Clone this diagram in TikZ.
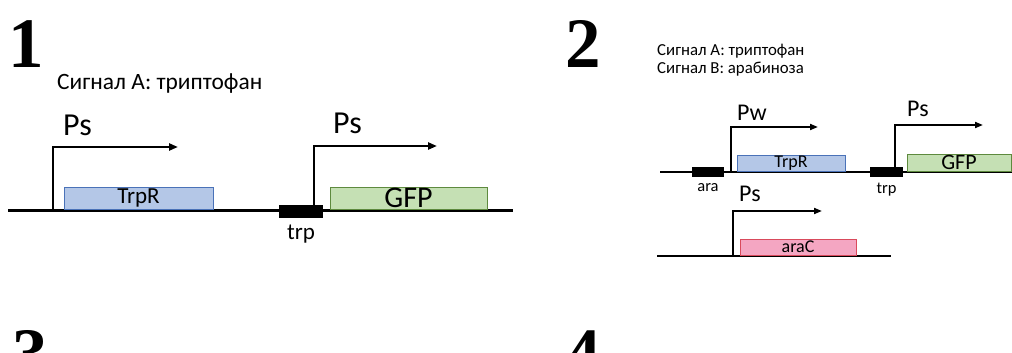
\documentclass[tikz,border=0pt]{standalone}
\usepackage{fontspec}
\setmainfont{Carlito}
\newfontfamily\numfont{Liberation Serif}
\usetikzlibrary{arrows.meta,positioning}
\definecolor{genBlue}{HTML}{B4C7E7}
\definecolor{genBlueDark}{HTML}{4A72B8}
\definecolor{genGreen}{HTML}{C5E0B4}
\definecolor{genGreenDark}{HTML}{5E8A3E}
\definecolor{genPink}{HTML}{F4A6C2}
\definecolor{genPinkDark}{HTML}{D94A5C}
\newcommand{\fsz}[1]{\fontsize{#1}{#1}\selectfont}

\begin{document}
\begin{tikzpicture}[
  x=1pt, y=-1pt,
  dna/.style={line width=3pt},
  dnasmall/.style={line width=2.2pt},
  prom/.style={line width=2.4pt,-{Triangle[length=9pt,width=7pt]}},
  promsmall/.style={line width=1.9pt,-{Triangle[length=8pt,width=6pt]}},
  gene/.style={draw,line width=1pt,inner sep=0pt,anchor=center},
  trpgene/.style={gene,fill=genBlue,draw=genBlueDark},
  gfpgene/.style={gene,fill=genGreen,draw=genGreenDark},
  aragene/.style={gene,fill=genPink,draw=genPinkDark},
  site/.style={fill=black,inner sep=0pt},
  lbl/.style={inner sep=0pt},
  num/.style={font=\numfont\bfseries\fsz{71},anchor=base west,inner sep=0pt}
]
  \useasboundingbox (0,0) rectangle (1012,353);
  \clip (0,0) rectangle (1012,353);

  % panel 1
  \node[num] (numA) at (8,67) {1};
  \node[lbl,anchor=base west,font=\fsz{23.4}] (sigA) at (57,89) {Сигнал А: триптофан};

  \coordinate (dnaAl) at (8,210);
  \coordinate (dnaAr) at (513,210);
  \draw[dna] (dnaAl)--(dnaAr);

  \node[trpgene,minimum width=149pt,minimum height=22pt,font=\fsz{23}]
    (trpRA) at (138.5,198) {TrpR};
  \node[gfpgene,minimum width=157pt,minimum height=22pt,font=\fsz{30}]
    (gfpA) at (408.5,198) {GFP};
  \node[site,minimum width=44pt,minimum height=13pt] (trpA) at (301,211.5) {};
  \node[lbl,below=7pt of trpA,font=\fsz{23}] (trpAl) {trp};

  \coordinate (prAa) at (53,210);
  \coordinate (prAb) at (178,147);
  \draw[prom] (prAa)|-(prAb);
  \node[lbl,anchor=base west,font=\fsz{32}] (psAa) at (63,135) {Ps};
  \coordinate (prBa) at (314,206);
  \coordinate (prBb) at (437,146);
  \draw[prom] (prBa)|-(prBb);
  \node[lbl,anchor=base west,font=\fsz{32}] (psAb) at (333,133) {Ps};

  % panel 2
  \node[num] (numB) at (565,67) {2};
  \node[lbl,anchor=base west,align=left,font=\fontsize{16.8}{18}\selectfont]
    (sigB) at (657,74) {Сигнал А: триптофан\\Сигнал В: арабиноза};

  \coordinate (dnaBl) at (660,172);
  \coordinate (dnaBr) at (1012,172);
  \draw[dnasmall] (dnaBl)--(dnaBr);

  \node[site,minimum width=32pt,minimum height=10pt] (araB) at (708,172) {};
  \node[lbl,below=6pt of araB,font=\fsz{16.5}] (araBl) {ara};
  \node[trpgene,minimum width=108pt,minimum height=16pt,font=\fsz{18}]
    (trpRB) at (791,163) {TrpR};
  \node[site,minimum width=33pt,minimum height=10pt] (trpB) at (886.5,172) {};
  \node[lbl,below=6pt of trpB,font=\fsz{16.5}] (trpBl) {trp};
  \node[gfpgene,minimum width=104pt,minimum height=17pt,font=\fsz{22}]
    (gfpB) at (959,162.5) {GFP};

  \coordinate (prCa) at (731,172);
  \coordinate (prCb) at (818,127);
  \draw[promsmall] (prCa)|-(prCb);
  \node[lbl,anchor=base west,font=\fsz{24}] (pwB) at (737,120) {Pw};
  \coordinate (prDa) at (895,172);
  \coordinate (prDb) at (983,125);
  \draw[promsmall] (prDa)|-(prDb);
  \node[lbl,anchor=base west,font=\fsz{24}] (psBa) at (907,116) {Ps};

  \coordinate (dnaCl) at (657,256);
  \coordinate (dnaCr) at (891,256);
  \draw[dnasmall] (dnaCl)--(dnaCr);
  \node[aragene,minimum width=116pt,minimum height=16pt,font=\fsz{18}]
    (araC) at (798,247) {araC};
  \coordinate (prEa) at (733,256);
  \coordinate (prEb) at (822,211);
  \draw[promsmall] (prEa)|-(prEb);
  \node[lbl,anchor=base west,font=\fsz{24}] (psBb) at (739,201) {Ps};

  % panels 3 and 4, cut off
  \node[num] (numC) at (12,377) {3};
  \node[num] (numD) at (565,377) {4};
\end{tikzpicture}
\end{document}
